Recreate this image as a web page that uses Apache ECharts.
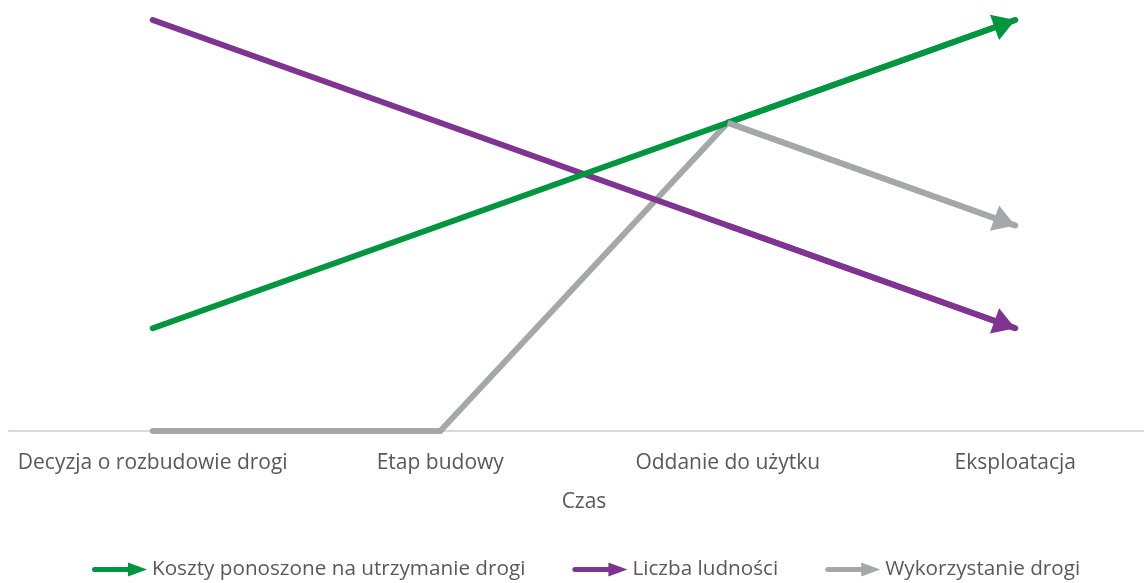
<!DOCTYPE html>
<html>
<head>
<meta charset="utf-8">
<script src="https://cdn.jsdelivr.net/npm/echarts@6/dist/echarts.min.js"></script>
<style>
  html, body { margin: 0; padding: 0; background: #fff; }
  #chart { width: 1144px; height: 583px; }
</style>
</head>
<body>
<div id="chart"></div>
<script>
// Etapy w czasie (oś X)
const stages = ['Decyzja o rozbudowie drogi', 'Etap budowy', 'Oddanie do użytku', 'Eksploatacja'];

// Wartości względne serii
const kosztyUtrzymania = [1, 2, 3, 4];
const liczbaLudnosci = [4, 3, 2, 1];
const wykorzystanieDrogi = [0, 0, 3, 2];

const seriesNames = ['Koszty ponoszone na utrzymanie drogi', 'Liczba ludności', 'Wykorzystanie drogi'];
const seriesColors = ['#00963f', '#7e3490', '#a5a8aa'];
const seriesValues = [kosztyUtrzymania, liczbaLudnosci, wykorzystanieDrogi];
const seriesZ = [3, 2, 1];

const FONT = '"Open Sans", sans-serif';
const TEXT_COLOR = '#595959';

// Legend icon: a horizontal arrow
const arrowIcon = 'path://M2.5,4.5 L36,4.5 L36,0 L55,7 L36,14 L36,9.5 L2.5,9.5 A2.5,2.5 0 0 1 2.5,4.5 Z';

const chart = echarts.init(document.getElementById('chart'), null, { renderer: 'canvas' });

const series = seriesValues.map((values, i) => {
  const n = values.length;
  return {
    name: seriesNames[i],
    type: 'line',
    data: values,
    symbol: 'none',
    z: seriesZ[i],
    lineStyle: { color: seriesColors[i], width: 6, cap: 'round', join: 'miter' },
    itemStyle: { color: seriesColors[i] },
    emphasis: { disabled: true },
    // last segment carries the arrow head
    markLine: {
      silent: true,
      animation: false,
      symbol: ['none', 'triangle'],
      symbolSize: [27, 22],
      symbolOffset: [0, [0, 11]],
      label: { show: false },
      lineStyle: { color: seriesColors[i], width: 6, type: 'solid', cap: 'butt' },
      emphasis: { disabled: true },
      data: [[
        { coord: [n - 2, values[n - 2]] },
        { coord: [n - 1, values[n - 1]] }
      ]]
    }
  };
});

chart.setOption({
  animation: false,
  backgroundColor: '#ffffff',
  grid: {
    left: 9, top: 20, right: -15, bottom: 152,
    containLabel: false,
    outerBoundsMode: 'none'
  },
  legend: {
    data: seriesNames,
    top: 559,
    left: 92,
    padding: 0,
    icon: arrowIcon,
    itemWidth: 55,
    itemHeight: 14,
    itemGap: 47,
    textStyle: { fontFamily: FONT, fontSize: 20.7, color: TEXT_COLOR },
    selectedMode: false
  },
  xAxis: {
    type: 'category',
    data: stages,
    boundaryGap: true,
    name: 'Czas',
    nameLocation: 'middle',
    nameGap: 61,
    nameTextStyle: { fontFamily: FONT, fontSize: 21, color: TEXT_COLOR },
    axisLine: { show: true, lineStyle: { color: '#d9d9d9', width: 2 } },
    axisTick: { show: false },
    axisLabel: { fontFamily: FONT, fontSize: 21, color: TEXT_COLOR, margin: 22, interval: 0 },
    splitLine: { show: false }
  },
  yAxis: {
    type: 'value',
    min: 0,
    max: 4,
    interval: 1,
    show: false
  },
  series: series
});
</script>
</body>
</html>
